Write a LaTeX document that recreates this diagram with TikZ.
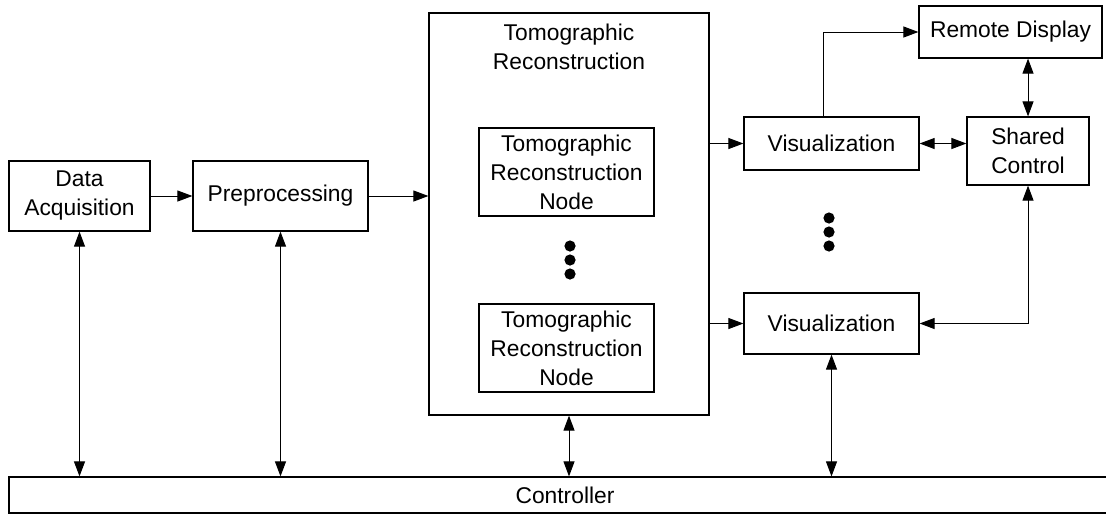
\documentclass[tikz,border=0pt]{standalone}
\usepackage{fontspec}
\setmainfont{Liberation Sans}
\usetikzlibrary{arrows.meta}
\begin{document}
\begin{tikzpicture}[x=0.5pt,y=-0.5pt,
  box/.style={draw, line width=0.6pt, inner sep=0pt, align=center,
    font=\fontsize{11.4}{14.5}\selectfont},
  txt/.style={inner sep=0pt, align=center, font=\fontsize{11.4}{14.5}\selectfont},
  conn/.style={line width=0.5pt, -{Triangle[length=7.5pt,width=5.5pt]}},
  biconn/.style={line width=0.5pt, {Triangle[length=7.5pt,width=5.5pt]}-{Triangle[length=7.5pt,width=5.5pt]}},
  dot/.style={fill=black}]
\useasboundingbox (0,0) rectangle (1106,515);
\clip (0,0) rectangle (1106,515);
\node[box, minimum width=70.5pt, minimum height=35pt] (da) at (79.5,196) {Data\\Acquisition};
\node[box, minimum width=87.5pt, minimum height=35pt] (pre) at (280.5,196) {Preprocessing};
\node[box, minimum width=140pt, minimum height=201pt] (big) at (569,214) {};
\node[txt] (bigt) at (569,47) {Tomographic\\Reconstruction};
\node[box, minimum width=87.5pt, minimum height=44pt] (tr1) at (566.5,172) {Tomographic\\Reconstruction\\Node};
\node[box, minimum width=87.5pt, minimum height=44pt] (tr2) at (566.5,348) {Tomographic\\Reconstruction\\Node};
\node[box, minimum width=87.5pt, minimum height=26.5pt] (vis1) at (831.5,143.5) {Visualization};
\node[box, minimum width=87.5pt, minimum height=30.5pt] (vis2) at (831.5,323.5) {Visualization};
\node[box, minimum width=91.5pt, minimum height=26pt] (rd) at (1010.5,32) {Remote Display};
\node[box, minimum width=61pt, minimum height=34pt] (sc) at (1028,151) {Shared\\Control};
\node[box, minimum width=556pt, minimum height=18pt] (ctrl) at (565,495) {Controller};
% dots
\fill[dot] (570,246) circle (2.8pt);
\fill[dot] (570,260) circle (2.8pt);
\fill[dot] (570,274) circle (2.8pt);
\fill[dot] (829,218) circle (2.8pt);
\fill[dot] (829,232) circle (2.8pt);
\fill[dot] (829,246) circle (2.8pt);
% connectors
\draw[conn] (da.east) -- (pre.west);
\draw[conn] (pre.east) -- (pre.east -| big.west);
\draw[conn] (vis1.west -| big.east) -- (vis1.west);
\draw[conn] (vis2.west -| big.east) -- (vis2.west);
\draw[conn] ([xshift=-4.25pt]vis1.north) |- (rd.west);
\draw[biconn] (vis1.east) -- (vis1.east -| sc.west);
\draw[biconn] (sc.north |- rd.south) -- (sc.north);
\draw[biconn] (sc.south) |- (vis2.east);
\draw[biconn] (da.south) -- (da.south |- ctrl.north);
\draw[biconn] (pre.south) -- (pre.south |- ctrl.north);
\draw[biconn] (big.south) -- (big.south |- ctrl.north);
\draw[biconn] (vis2.south) -- (vis2.south |- ctrl.north);
\end{tikzpicture}
\end{document}
